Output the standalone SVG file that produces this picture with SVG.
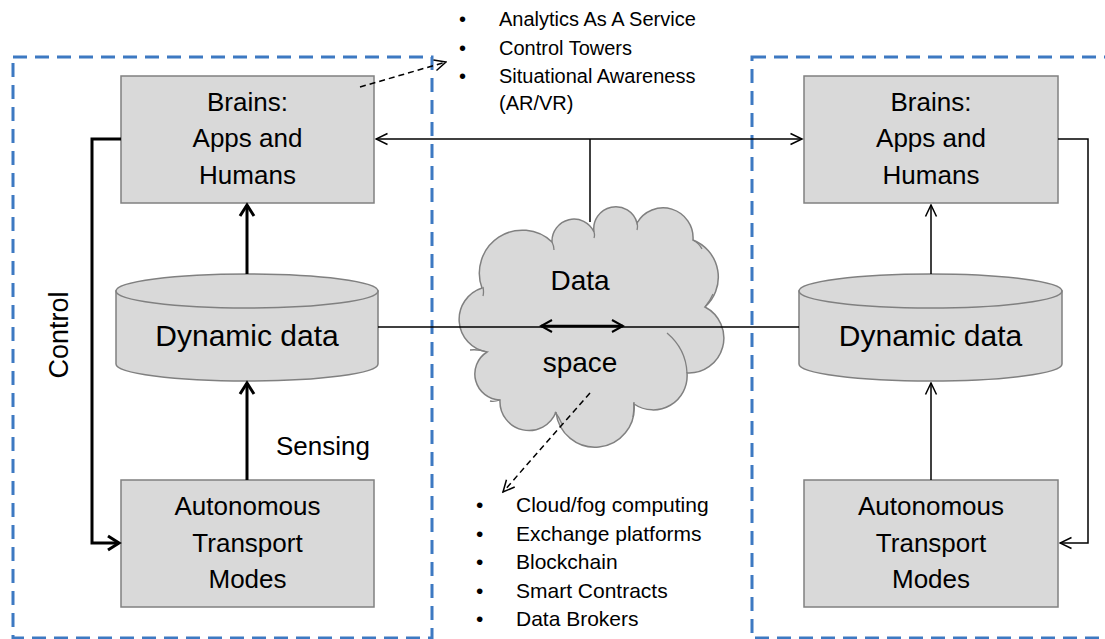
<svg xmlns="http://www.w3.org/2000/svg" width="1105" height="639" viewBox="0 0 1105 639">
<style>
.bg{fill:#ffffff}
.frame{fill:none;stroke:#3d79c2;stroke-width:3;stroke-dasharray:14 8}
.box{fill:#d9d9d9;stroke:#808080;stroke-width:1.5}
.fold{fill:none;stroke:#808080;stroke-width:1.3}
.t{font-family:"Liberation Sans",Arial,sans-serif;fill:#000}
.lbl{font-size:26px;text-anchor:middle}
.big{font-size:30px;text-anchor:middle}
.b1{font-size:20px}
.b2{font-size:21px}
.thin{fill:none;stroke:#000;stroke-width:1.5}
.thick{fill:none;stroke:#000;stroke-width:3}
.dash{fill:none;stroke:#000;stroke-width:1.5;stroke-dasharray:6 4}
</style>
<defs>
<marker id="ah" viewBox="0 0 14 14" refX="12.5" refY="7" markerWidth="14" markerHeight="14" markerUnits="userSpaceOnUse" orient="auto-start-reverse">
<path d="M1,1.5 L12.5,7 L1,12.5" fill="none" stroke="#000" stroke-width="1.5"/>
</marker>
<marker id="ahk" viewBox="0 0 16 18" refX="13" refY="9" markerWidth="16" markerHeight="18" markerUnits="userSpaceOnUse" orient="auto-start-reverse">
<path d="M2,2 L13,9 L2,16" fill="none" stroke="#000" stroke-width="3"/>
</marker>
<marker id="ahm" viewBox="0 0 14 14" refX="12" refY="7" markerWidth="14" markerHeight="14" markerUnits="userSpaceOnUse" orient="auto-start-reverse">
<path d="M1,1 L12,7 L1,13" fill="none" stroke="#000" stroke-width="2"/>
</marker>
</defs>
<rect class="bg" x="0" y="0" width="1105" height="639"/>

<g id="frame-left"><rect class="frame" x="13" y="57" width="419" height="581"/></g>
<g id="frame-right"><rect class="frame" x="752" y="57" width="400" height="581"/></g>

<g id="brains-left">
<rect class="box" x="121" y="76" width="253" height="127"/>
<text class="t lbl" x="247.5" y="111">Brains:</text>
<text class="t lbl" x="247.5" y="147">Apps and</text>
<text class="t lbl" x="247.5" y="184">Humans</text>
</g>
<g id="data-left">
<path class="box" d="M116,291 L116,364 A131,17 0 0 0 378,364 L378,291 Z"/>
<ellipse class="box" cx="247" cy="291" rx="131" ry="17"/>
<text class="t big" x="247" y="346">Dynamic data</text>
</g>
<g id="atm-left">
<rect class="box" x="121" y="480" width="253" height="127"/>
<text class="t lbl" x="247.5" y="515">Autonomous</text>
<text class="t lbl" x="247.5" y="552">Transport</text>
<text class="t lbl" x="247.5" y="588">Modes</text>
</g>

<g id="brains-right">
<rect class="box" x="804" y="76" width="254" height="127"/>
<text class="t lbl" x="931" y="111">Brains:</text>
<text class="t lbl" x="931" y="147">Apps and</text>
<text class="t lbl" x="931" y="184">Humans</text>
</g>
<g id="data-right">
<path class="box" d="M799,291 L799,364 A131.5,17 0 0 0 1062,364 L1062,291 Z"/>
<ellipse class="box" cx="930.5" cy="291" rx="131.5" ry="17"/>
<text class="t big" x="930.5" y="346">Dynamic data</text>
</g>
<g id="atm-right">
<rect class="box" x="804" y="480" width="254" height="127"/>
<text class="t lbl" x="931" y="515">Autonomous</text>
<text class="t lbl" x="931" y="552">Transport</text>
<text class="t lbl" x="931" y="588">Modes</text>
</g>

<g id="cloud">
<path class="box" d="M482,288 A43,43 0 0 1 552,242 A22,22 0 0 1 594,232 A22,22 0 0 1 637,223 A30,30 0 0 1 693,240 A40,40 0 0 1 705,307 A35,35 0 0 1 687,373 A34,34 0 0 1 634,404 A39,39 0 0 1 556,412 A29,29 0 0 1 500,400 A26,26 0 0 1 487,352 A33,33 0 0 1 482,288 Z"/>
<path class="fold" d="M483,287 Q484,292 483,296 M552,242 Q554,246 554,250 M594,232 Q595,235 594,238 M637,223 Q638,226 637,230 M693,240 Q699,243 702,249 M705,307 Q710,301 713,294 M667,333 Q686,349 687,373 M634,402 Q634,410 633,417 M555,412 Q559,417 562,424 M500,400 Q494,402 490,401 M487,352 Q478,349 470,350"/>
<text class="t" x="580" y="290" font-size="28" text-anchor="middle">Data</text>
<text class="t" x="580" y="372" font-size="28" text-anchor="middle">space</text>
</g>

<g id="labels">
<text class="t" font-size="27" text-anchor="middle" transform="translate(68,335) rotate(-90)">Control</text>
<text class="t" font-size="26" x="276" y="455">Sensing</text>
</g>

<g id="list-top" class="t b1">
<text x="459" y="26">•</text><text x="499" y="26">Analytics As A Service</text>
<text x="459" y="55">•</text><text x="499" y="55">Control Towers</text>
<text x="459" y="83">•</text><text x="499" y="83">Situational Awareness</text>
<text x="499" y="110">(AR/VR)</text>
</g>
<g id="list-bottom" class="t b2">
<text x="476" y="512">•</text><text x="516" y="512">Cloud/fog computing</text>
<text x="476" y="541">•</text><text x="516" y="541">Exchange platforms</text>
<text x="476" y="569">•</text><text x="516" y="569">Blockchain</text>
<text x="476" y="598">•</text><text x="516" y="598">Smart Contracts</text>
<text x="476" y="626">•</text><text x="516" y="626">Data Brokers</text>
</g>

<g id="connectors">
<line class="thick" x1="247" y1="274" x2="247" y2="205" marker-end="url(#ahk)"/>
<line class="thick" x1="247" y1="480" x2="247" y2="383" marker-end="url(#ahk)"/>
<path class="thick" d="M121,139 L92,139 L92,543 L119,543" marker-end="url(#ahk)"/>
<line class="thin" x1="376" y1="139" x2="802" y2="139" marker-start="url(#ah)" marker-end="url(#ah)"/>
<line class="thin" x1="590" y1="139" x2="590" y2="222"/>
<line class="thin" x1="378" y1="327" x2="799" y2="327"/>
<line x1="541" y1="326" x2="623" y2="326" stroke="#000" stroke-width="2.5" marker-start="url(#ahm)" marker-end="url(#ahm)"/>
<line class="thin" x1="931" y1="274" x2="931" y2="205" marker-end="url(#ah)"/>
<line class="thin" x1="931" y1="480" x2="931" y2="383" marker-end="url(#ah)"/>
<path class="thin" d="M1058,139 L1088,139 L1088,543 L1060,543" marker-end="url(#ah)"/>
<line class="dash" x1="360" y1="87" x2="446" y2="62" marker-end="url(#ah)"/>
<line class="dash" x1="590" y1="393" x2="503" y2="492" marker-end="url(#ah)"/>
</g>
</svg>
